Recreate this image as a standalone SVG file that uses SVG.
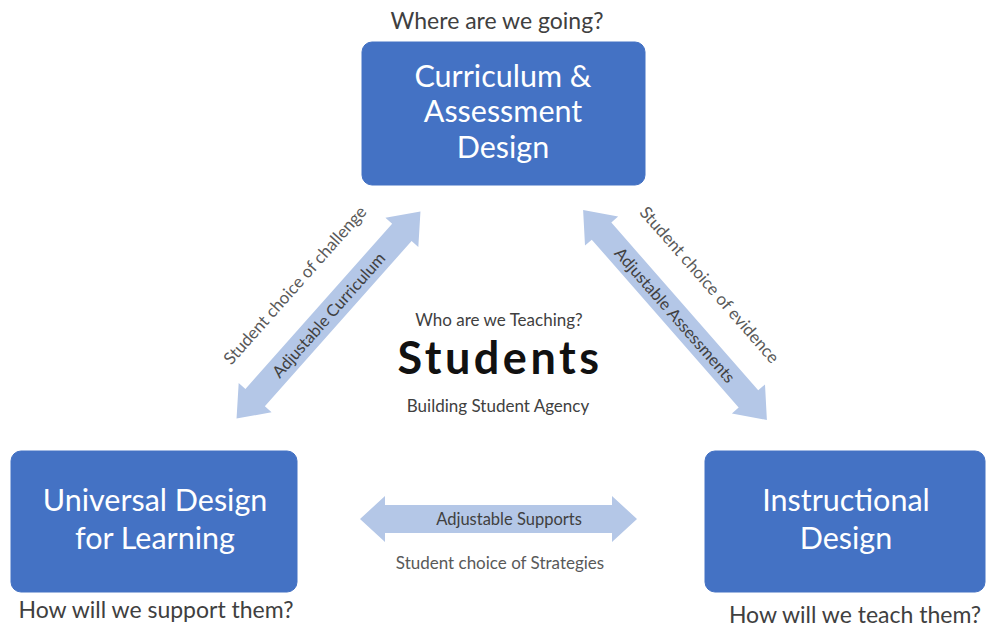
<svg xmlns="http://www.w3.org/2000/svg" width="986" height="628" viewBox="0 0 986 628">
<style>
.box{fill:#4472C4;stroke:#4472C4;stroke-width:1}
.bt{font-family:Lato,"Liberation Sans",sans-serif;font-size:30.5px;fill:#FFFFFF;text-anchor:middle}
.q{font-family:Lato,"Liberation Sans",sans-serif;font-size:23px;fill:#404040;text-anchor:middle}
.arr{fill:#B4C7E7}
.in{font-family:Lato,"Liberation Sans",sans-serif;font-size:16.5px;fill:#404040;text-anchor:middle}
.out{font-family:Lato,"Liberation Sans",sans-serif;font-size:17px;fill:#595959;text-anchor:middle}
.sm{font-family:Lato,"Liberation Sans",sans-serif;font-size:17px;fill:#404040;text-anchor:middle}
</style>
<rect width="986" height="628" fill="#FFFFFF"/>
<g id="connectors">
  <g id="arrow-left" transform="translate(328.5,315) rotate(-48.4)">
    <polygon class="arr" points="-138.5,0 -110.5,-22 -110.5,-13 110.5,-13 110.5,-22 138.5,0 110.5,22 110.5,13 -110.5,13 -110.5,22"/>
    <text class="in" x="0" y="6">Adjustable Curriculum</text>
    <text class="out" x="0" y="-39">Student choice of challenge</text>
  </g>
  <g id="arrow-right" transform="translate(675,315) rotate(48.8)">
    <polygon class="arr" points="-139.5,0 -111.5,-22 -111.5,-13 111.5,-13 111.5,-22 139.5,0 111.5,22 111.5,13 -111.5,13 -111.5,22"/>
    <text class="in" x="0" y="6">Adjustable Assessments</text>
    <text class="out" x="0" y="-40">Student choice of evidence</text>
  </g>
  <g id="arrow-bottom">
    <polygon class="arr" points="360,519 385,496 385,505 612,505 612,496 637,519 612,542 612,533 385,533 385,542"/>
    <text class="in" x="509" y="525">Adjustable Supports</text>
    <text class="out" x="500" y="569">Student choice of Strategies</text>
  </g>
</g>
<g id="node-curriculum">
  <text class="q" x="497" y="29">Where are we going?</text>
  <rect class="box" x="362" y="42" width="283" height="143" rx="10"/>
  <text class="bt" x="503" y="87">Curriculum &amp;</text>
  <text class="bt" x="503" y="122">Assessment</text>
  <text class="bt" x="503" y="158">Design</text>
</g>
<g id="node-students">
  <text class="sm" x="499" y="326">Who are we Teaching?</text>
  <text x="500" y="374" style="font-family:Lato,'Liberation Sans',sans-serif;font-size:45px;font-weight:bold;letter-spacing:3.5px;fill:#111111;text-anchor:middle">Students</text>
  <text class="sm" x="498" y="412">Building Student Agency</text>
</g>
<g id="node-udl">
  <rect class="box" x="11" y="451" width="286" height="141" rx="10"/>
  <text class="bt" x="155" y="511">Universal Design</text>
  <text class="bt" x="155" y="549">for Learning</text>
  <text class="q" x="156" y="618">How will we support them?</text>
</g>
<g id="node-instructional">
  <rect class="box" x="705" y="451" width="280" height="141" rx="10"/>
  <text class="bt" x="846" y="511">Instructional</text>
  <text class="bt" x="846" y="549">Design</text>
  <text class="q" x="855" y="623">How will we teach them?</text>
</g>
</svg>
